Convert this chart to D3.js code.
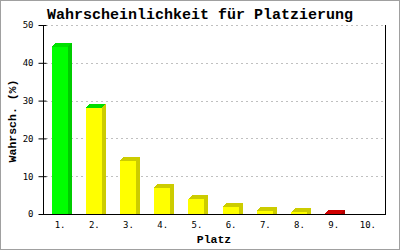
<!DOCTYPE html>
<html>
<head>
<meta charset="utf-8">
<script src="https://cdn.jsdelivr.net/npm/d3@7"></script>
<style>
  body { margin: 0; background: #fff; }
  svg { display: block; }
  text { font-family: "Liberation Mono", "DejaVu Sans Mono", monospace; }
</style>
</head>
<body>
<svg id="chart" width="400" height="250"></svg>
<script>
// --- Data ---
const places = ["1.", "2.", "3.", "4.", "5.", "6.", "7.", "8.", "9.", "10."];
const probs = [44.2, 28, 14, 7, 4, 1.8, 0.9, 0.45, 0.1, 0];
const yTicks = [0, 10, 20, 30, 40, 50];

// colours per bar: front, top, side
const palette = places.map((p, i) => {
    if (i === 0) return { front: "#00ff00", top: "#00e000", side: "#00cc00" };
    if (i === 1) return { front: "#ffff00", top: "#00dd00", side: "#cccc00" };
    if (i === 8) return { front: "#ff0000", top: "#d00000", side: "#b00000" };
    return { front: "#ffff00", top: "#cccc00", side: "#cccc00" };
});

const svg = d3.select("#chart");
const plotLeft = 43, plotRight = 385, plotTop = 25, plotBottom = 214;

// outer grey border
svg.append("rect")
    .attr("x", 0.5).attr("y", 0.5).attr("width", 399).attr("height", 249)
    .attr("fill", "#fff").attr("stroke", "#a0a0a0");

const x = d3.scaleBand().domain(places).range([plotLeft, plotRight]);
const y = d3.scaleLinear().domain([0, 50]).range([plotBottom, plotTop]);

// grid lines
svg.append("g").selectAll("line")
    .data(yTicks.filter(t => t > 0))
    .enter().append("line")
    .attr("x1", plotLeft + 3).attr("x2", plotRight)
    .attr("y1", d => Math.round(y(d)) + 0.5).attr("y2", d => Math.round(y(d)) + 0.5)
    .attr("stroke", "#c0c0c0").attr("stroke-dasharray", "2,3");

// bars (3D style)
const depth = 4, bw = 16;
const bars = svg.append("g").attr("shape-rendering", "crispEdges");
probs.forEach((v, i) => {
    if (v <= 0) return;
    const x0 = x(places[i]) + 8.5;
    const y0 = y(v);
    const c = palette[i];
    bars.append("polygon")
        .attr("points", [[x0 + bw, y0], [x0 + bw + depth, y0 - depth], [x0 + bw + depth, plotBottom], [x0 + bw, plotBottom]].join(" "))
        .attr("fill", c.side);
    bars.append("polygon")
        .attr("points", [[x0, y0], [x0 + depth, y0 - depth], [x0 + bw + depth, y0 - depth], [x0 + bw, y0]].join(" "))
        .attr("fill", c.top);
    if (plotBottom - y0 >= 1) {
        bars.append("rect")
            .attr("x", x0).attr("y", y0)
            .attr("width", bw).attr("height", plotBottom - y0)
            .attr("fill", c.front);
    }
});

// axes
const yAxis = d3.axisLeft(y).tickValues(yTicks).tickSize(0).tickPadding(10);
const gy = svg.append("g").attr("transform", `translate(${plotLeft + 0.5},0)`).call(yAxis);
gy.select(".domain").remove();
gy.selectAll("text").attr("font-size", 9).attr("fill", "#000")
    .style("font-family", "'DejaVu Sans Mono', monospace");
gy.selectAll(".tick").append("line")
    .attr("x1", -5).attr("x2", 3).attr("stroke", "#000");

svg.append("line").attr("x1", plotLeft + 0.5).attr("x2", plotLeft + 0.5)
    .attr("y1", plotTop).attr("y2", plotBottom + 0.5).attr("stroke", "#000");
svg.append("line").attr("x1", plotRight + 0.5).attr("x2", plotRight + 0.5)
    .attr("y1", plotTop).attr("y2", plotBottom + 0.5).attr("stroke", "#000");
svg.append("line").attr("x1", plotLeft).attr("x2", plotRight + 1)
    .attr("y1", plotBottom + 0.5).attr("y2", plotBottom + 0.5).attr("stroke", "#000");

const xAxis = d3.axisBottom(x).tickSize(0).tickPadding(8);
const gx = svg.append("g").attr("transform", `translate(0,${plotBottom})`).call(xAxis);
gx.select(".domain").remove();
gx.selectAll("text").attr("font-size", 9).attr("fill", "#000")
    .style("font-family", "'DejaVu Sans Mono', monospace");

// titles
svg.append("text").attr("x", 200).attr("y", 19).attr("text-anchor", "middle")
    .attr("font-size", 15).attr("font-weight", "bold")
    .text("Wahrscheinlichkeit für Platzierung");
svg.append("text").attr("x", 214).attr("y", 243).attr("text-anchor", "middle")
    .attr("font-size", 11.5).attr("font-weight", "bold").text("Platz");
svg.append("text").attr("transform", "translate(16,121) rotate(-90)")
    .attr("text-anchor", "middle").attr("font-size", 11.5).attr("font-weight", "bold")
    .text("Wahrsch. (%)");
</script>
</body>
</html>
